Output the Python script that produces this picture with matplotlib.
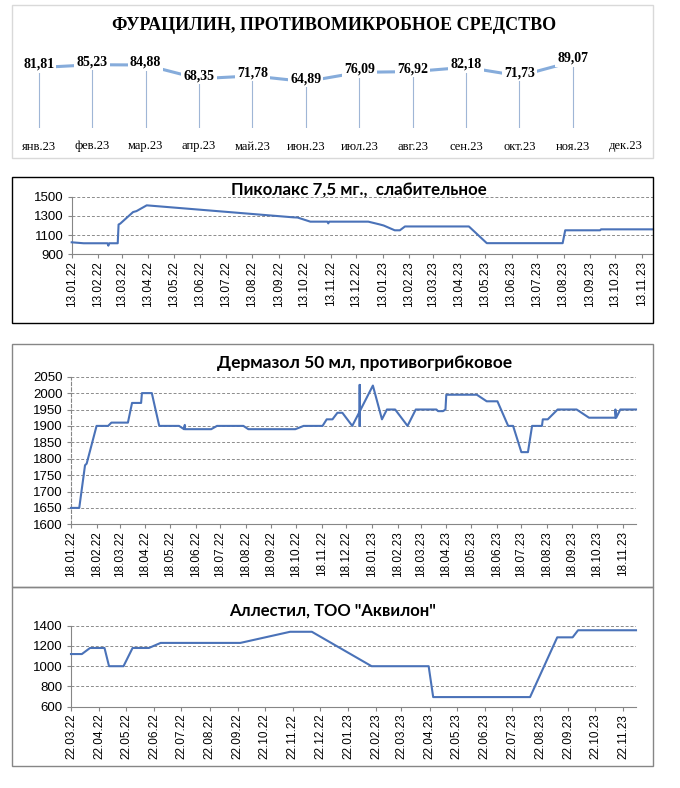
import matplotlib
matplotlib.use('Agg')
import matplotlib.pyplot as plt
import matplotlib.dates as mdates
from matplotlib.patches import Rectangle
import numpy as np
import pandas as pd

# ---- data ----
months1 = ['янв.23', 'фев.23', 'мар.23', 'апр.23', 'май.23', 'июн.23',
           'июл.23', 'авг.23', 'сен.23', 'окт.23', 'ноя.23', 'дек.23']
price1 = [81.81, 85.23, 84.88, 68.35, 71.78, 64.89, 76.09, 76.92, 82.18, 71.73, 89.07]

dates2 = ['13.01.22', '27.01.22', '24.02.22', '25.02.22', '26.02.22', '08.03.22', '09.03.22',
          '11.03.22', '26.03.22', '30.03.22', '11.04.22', '30.09.22', '05.10.22', '20.10.22',
          '09.11.22', '10.11.22', '11.11.22', '27.12.22', '09.01.23', '14.01.23', '27.01.23',
          '02.02.23', '08.02.23', '24.04.23', '15.05.23', '12.08.23', '15.08.23', '25.09.23',
          '26.09.23', '26.11.23']
price2 = [1025, 1015, 1015, 990, 1015, 1015, 1210,
          1220, 1340, 1350, 1410, 1285, 1283, 1240,
          1240, 1222, 1240, 1240, 1212, 1200, 1150,
          1150, 1190, 1190, 1016, 1016, 1150, 1150,
          1160, 1160]

dates3 = ['18.01.22', '28.01.22', '04.02.22', '06.02.22', '18.02.22', '04.03.22', '08.03.22',
          '28.03.22', '02.04.22', '13.04.22', '14.04.22', '26.04.22', '30.04.22', '05.05.22',
          '29.05.22', '04.06.22', '05.06.22', '05.06.22', '07.07.22', '14.07.22', '15.08.22',
          '21.08.22', '17.10.22', '27.10.22', '19.11.22', '24.11.22', '01.12.22', '07.12.22',
          '13.12.22', '25.12.22', '03.01.23', '03.01.23', '03.01.23', '03.01.23', '19.01.23',
          '30.01.23', '05.02.23', '15.02.23', '02.03.23', '12.03.23', '06.04.23', '08.04.23',
          '14.04.23', '17.04.23', '18.04.23', '25.05.23', '06.06.23', '19.06.23', '02.07.23',
          '08.07.23', '18.07.23', '26.07.23', '31.07.23', '12.08.23', '13.08.23', '19.08.23',
          '31.08.23', '23.09.23', '08.10.23', '09.11.23', '09.11.23', '10.11.23', '15.11.23',
          '04.12.23']
price3 = [1650, 1650, 1780, 1785, 1900, 1900, 1910,
          1910, 1970, 1970, 2000, 2000, 1955, 1900,
          1900, 1890, 1903, 1890, 1890, 1900, 1900,
          1890, 1890, 1900, 1900, 1920, 1920, 1940,
          1940, 1900, 1944, 2025, 1900, 1944, 2023,
          1920, 1950, 1950, 1900, 1950, 1950, 1945,
          1945, 1950, 1995, 1995, 1975, 1975, 1900,
          1900, 1820, 1820, 1900, 1900, 1920, 1920,
          1950, 1950, 1925, 1925, 1950, 1925, 1950,
          1950]

dates4 = ['22.03.22', '03.04.22', '12.04.22', '28.04.22', '03.05.22', '19.05.22', '29.05.22',
          '16.06.22', '29.06.22', '25.09.22', '19.11.22', '13.12.22', '17.02.23', '21.04.23',
          '26.04.23', '11.08.23', '10.09.23', '27.09.23', '03.10.23', '06.12.23']
price4 = [1120, 1120, 1180, 1180, 1000, 1000, 1180,
          1180, 1230, 1230, 1340, 1340, 1000, 1000,
          695, 695, 1285, 1285, 1355, 1355]

title1 = 'ФУРАЦИЛИН, ПРОТИВОМИКРОБНОЕ СРЕДСТВО'
title2 = 'Пиколакс 7,5 мг.,  слабительное'
title3 = 'Дермазол 50 мл, противогрибковое'
title4 = 'Аллестил, ТОО "Аквилон"'

W, H = 680, 788
LINE = '#4a72b8'
GRID = '#8c8c8c'
AXC = '#868686'
TITLE_FONT = ['Lato', 'DejaVu Sans']

fig = plt.figure(figsize=(W / 100, H / 100), dpi=100)


def px_ax(x0, y0, x1, y1):
    # axes placed in pixel coords (top-left origin)
    return fig.add_axes([x0 / W, 1 - y1 / H, (x1 - x0) / W, (y1 - y0) / H])


def px_box(x0, y0, x1, y1, color):
    fig.add_artist(Rectangle((x0 / W, 1 - y1 / H), (x1 - x0) / W, (y1 - y0) / H,
                             transform=fig.transFigure, fill=False,
                             edgecolor=color, lw=1))


def px_text(x, y, s, **kw):
    fig.text(x / W, 1 - y / H, s, ha='center', va='center', **kw)


def price_chart(ax, dates, vals, day, ymin, ymax, ystep, dashed_axis=False):
    x = pd.to_datetime(dates, format='%d.%m.%y')
    ax.plot(x, vals, color=LINE, lw=1.5, solid_joinstyle='round', clip_on=False, zorder=3)
    ax.set_xlim(x[0], x[-1])
    ax.set_ylim(ymin, ymax)
    ax.set_yticks(np.arange(ymin, ymax + 1, ystep))
    ax.xaxis.set_major_locator(mdates.MonthLocator(bymonthday=day))
    ax.xaxis.set_major_formatter(mdates.DateFormatter('%d.%m.%y'))
    for lab in ax.get_xticklabels():
        lab.set_rotation(90)
    ax.grid(axis='y', ls=(0, (3, 2)), color=GRID, lw=0.7)
    ax.set_axisbelow(True)
    for s in ['top', 'right']:
        ax.spines[s].set_visible(False)
    ax.spines['bottom'].set_color(AXC)
    ax.spines['left'].set_color(AXC)
    if dashed_axis:
        ax.spines['left'].set_linestyle((0, (3, 2)))
    ax.tick_params(axis='both', direction='out', length=3, width=0.8, color=AXC,
                   labelsize=8.5)
    ax.tick_params(axis='x', pad=2)
    ax.tick_params(axis='y', pad=3, labelsize=9.5)
    for lab in ax.get_xticklabels() + ax.get_yticklabels():
        lab.set_family('Liberation Sans')
    ax.set_facecolor('none')


# ---- chart 1: monthly prices ----
px_box(12, 5, 653, 158, '#d9d9d9')
ax1 = px_ax(12, 40, 653, 128)
xs = np.arange(len(months1))
ax1.set_xlim(-0.5, 11.5)
ax1.set_ylim(9, 115)
ax1.vlines(xs[:len(price1)], 9, price1, color='#9fb6d6', lw=0.8, zorder=1)
ax1.plot(xs[:len(price1)], price1, color='#86acdb', lw=2.2, zorder=2)
for xi, v in zip(xs, price1):
    ax1.annotate(f'{v:.2f}'.replace('.', ','), (xi, v), xytext=(0, 2.2),
                 textcoords='offset points', ha='center', va='center',
                 fontsize=10, fontweight='bold', family='Liberation Serif', zorder=4,
                 bbox=dict(boxstyle='square,pad=0.15', fc='white', ec='none'))
ax1.set_xticks(xs)
ax1.set_xticklabels(months1, family='Liberation Serif', fontsize=9)
ax1.tick_params(axis='x', length=0, pad=9)
ax1.set_yticks([])
for s in ax1.spines.values():
    s.set_visible(False)
ax1.set_facecolor('none')
px_text(334, 25, title1, fontsize=13, fontweight='bold', family='Liberation Serif')

# ---- chart 2 ----
px_box(12, 177, 653, 323, 'black')
ax2 = px_ax(71.7, 196.7, 653, 254.3)
price_chart(ax2, dates2, price2, 13, 900, 1500, 200)
px_text(359, 191, title2, fontsize=12.2, fontweight='bold', family=TITLE_FONT)

# ---- chart 3 ----
px_box(12, 344, 653, 587, AXC)
ax3 = px_ax(71, 376.7, 636, 524.3)
price_chart(ax3, dates3, price3, 18, 1600, 2050, 50, dashed_axis=True)
px_text(365, 363, title3, fontsize=12.5, fontweight='bold', family=TITLE_FONT)

# ---- chart 4 ----
px_box(12, 587, 653, 766, AXC)
ax4 = px_ax(71, 625.7, 636, 706.7)
price_chart(ax4, dates4, price4, 22, 600, 1400, 200)
px_text(333, 611, title4, fontsize=12, fontweight='bold', family=TITLE_FONT)

fig.savefig('out.png', dpi=100, facecolor='white')
